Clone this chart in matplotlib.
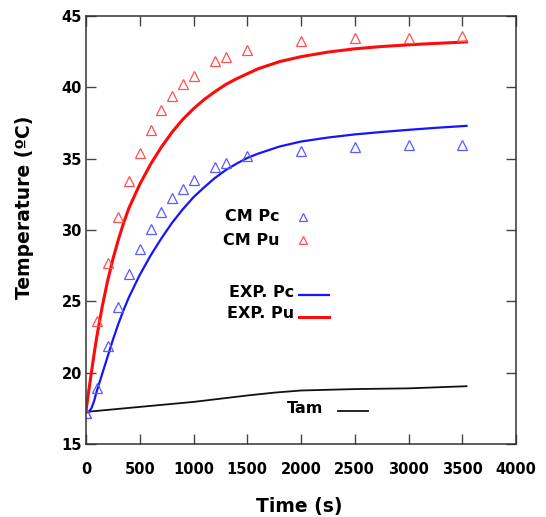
import matplotlib
matplotlib.use("Agg")
import matplotlib.pyplot as plt

plt.rcParams['font.family'] = ['DejaVu Sans']
plt.rcParams['font.weight'] = 'bold'

# Model predictions (CM) at discrete times
t_cm = [0, 100, 200, 300, 400, 500, 600, 700, 800, 900, 1000, 1200, 1300, 1500,
        2000, 2500, 3000, 3500]
cm_pu = [17.2, 23.6, 27.7, 30.9, 33.4, 35.4, 37.0, 38.4, 39.4, 40.25, 40.8, 41.85,
         42.15, 42.6, 43.25, 43.45, 43.45, 43.6]
cm_pc = [17.2, 18.9, 21.9, 24.6, 26.9, 28.7, 30.1, 31.25, 32.25, 32.9, 33.5, 34.45,
         34.7, 35.2, 35.55, 35.85, 35.95, 35.95]

# Measured temperatures (EXP)
t_exp = [0, 25, 50, 75, 100, 150, 200, 250, 300, 350, 400, 500, 600, 700, 800, 900,
         1000, 1100, 1200, 1300, 1400, 1500, 1600, 1800, 2000, 2250, 2500, 2750,
         3000, 3250, 3540]
exp_pu = [17.3, 18.7, 20.0, 21.3, 22.5, 24.6, 26.4, 27.95, 29.3, 30.5, 31.55, 33.2,
          34.6, 35.8, 36.85, 37.75, 38.5, 39.15, 39.7, 40.2, 40.6, 40.95, 41.3,
          41.8, 42.15, 42.47, 42.7, 42.86, 42.98, 43.08, 43.18]
exp_pc = [17.2, 17.25, 17.5, 18.0, 18.7, 19.9, 21.1, 22.3, 23.4, 24.4, 25.3, 26.85,
          28.2, 29.4, 30.5, 31.45, 32.3, 33.0, 33.65, 34.2, 34.65, 35.05, 35.35,
          35.85, 36.2, 36.48, 36.7, 36.87, 37.02, 37.16, 37.3]

# Ambient temperature
t_am = [0, 500, 1000, 1500, 1750, 2000, 2500, 3000, 3540]
tam = [17.25, 17.6, 17.95, 18.4, 18.6, 18.75, 18.85, 18.9, 19.05]

x_ticks = [0, 500, 1000, 1500, 2000, 2500, 3000, 3500, 4000]
y_ticks = [15, 20, 25, 30, 35, 40, 45]

RED_LINE = '#ff0a0a'
BLUE_LINE = '#1414ff'
RED_MK = '#ff5050'
BLUE_MK = '#5a5aff'

fig = plt.figure(figsize=(5.46, 5.17), dpi=100)
ax = fig.add_axes([86 / 546, 1 - 444 / 517, 430 / 546, 428 / 517])

ax.plot(t_am, tam, color='#111111', lw=1.3)
ax.plot(t_exp, exp_pc, color=BLUE_LINE, lw=1.6)
ax.plot(t_exp, exp_pu, color=RED_LINE, lw=2.2)
ax.plot(t_cm, cm_pu, ls='none', marker='^', ms=7, mfc='none', mec=RED_MK, mew=0.9)
ax.plot(t_cm, cm_pc, ls='none', marker='^', ms=7, mfc='none', mec=BLUE_MK, mew=0.9)

ax.set_xlim(0, 4000)
ax.set_ylim(15, 45)
ax.set_xticks(x_ticks)
ax.set_yticks(y_ticks)
ax.tick_params(direction='in', length=7, width=1, color='#444444',
               top=True, right=True, labelsize=10.5)
ax.tick_params(axis='x', pad=13)
ax.tick_params(axis='y', pad=3)
for lab in ax.get_xticklabels() + ax.get_yticklabels():
    lab.set_fontweight('bold')
for sp in ax.spines.values():
    sp.set_color('#333333')
    sp.set_linewidth(1.1)

ax.set_xlabel('Time (s)', fontsize=13.5, fontweight='bold')
ax.xaxis.label.set_va('center')
ax.xaxis.set_label_coords(0.495, -0.147)
ax.set_ylabel('Temperature (ºC)', fontsize=13.5, fontweight='bold')
ax.yaxis.label.set_va('center')
ax.yaxis.set_label_coords(-0.142, 0.554)

# In-plot key
tr = ax.transAxes
kw = dict(transform=tr, fontsize=11.5, fontweight='bold', ha='right', va='center')
ax.text(0.451, 0.531, 'CM Pc', **kw)
ax.text(0.451, 0.4766, 'CM Pu', **kw)
ax.plot([0.5053], [0.531], transform=tr, marker='^', ms=5.5, mfc='none',
        mec=BLUE_MK, mew=0.9, ls='none')
ax.plot([0.5053], [0.4766], transform=tr, marker='^', ms=5.5, mfc='none',
        mec=RED_MK, mew=0.9, ls='none')
ax.text(0.4844, 0.3535, 'EXP. Pc', **kw)
ax.text(0.4844, 0.3054, 'EXP. Pu', **kw)
ax.plot([0.496, 0.5644], [0.348, 0.348], transform=tr, color=BLUE_LINE, lw=1.6)
ax.plot([0.496, 0.5644], [0.2974, 0.2974], transform=tr, color=RED_LINE, lw=2.2)
ax.text(0.5519, 0.0818, 'Tam', **kw)
ax.plot([0.5867, 0.6565], [0.0778, 0.0778], transform=tr, color='#111111', lw=1.3)

fig.savefig('out.png', dpi=100)
